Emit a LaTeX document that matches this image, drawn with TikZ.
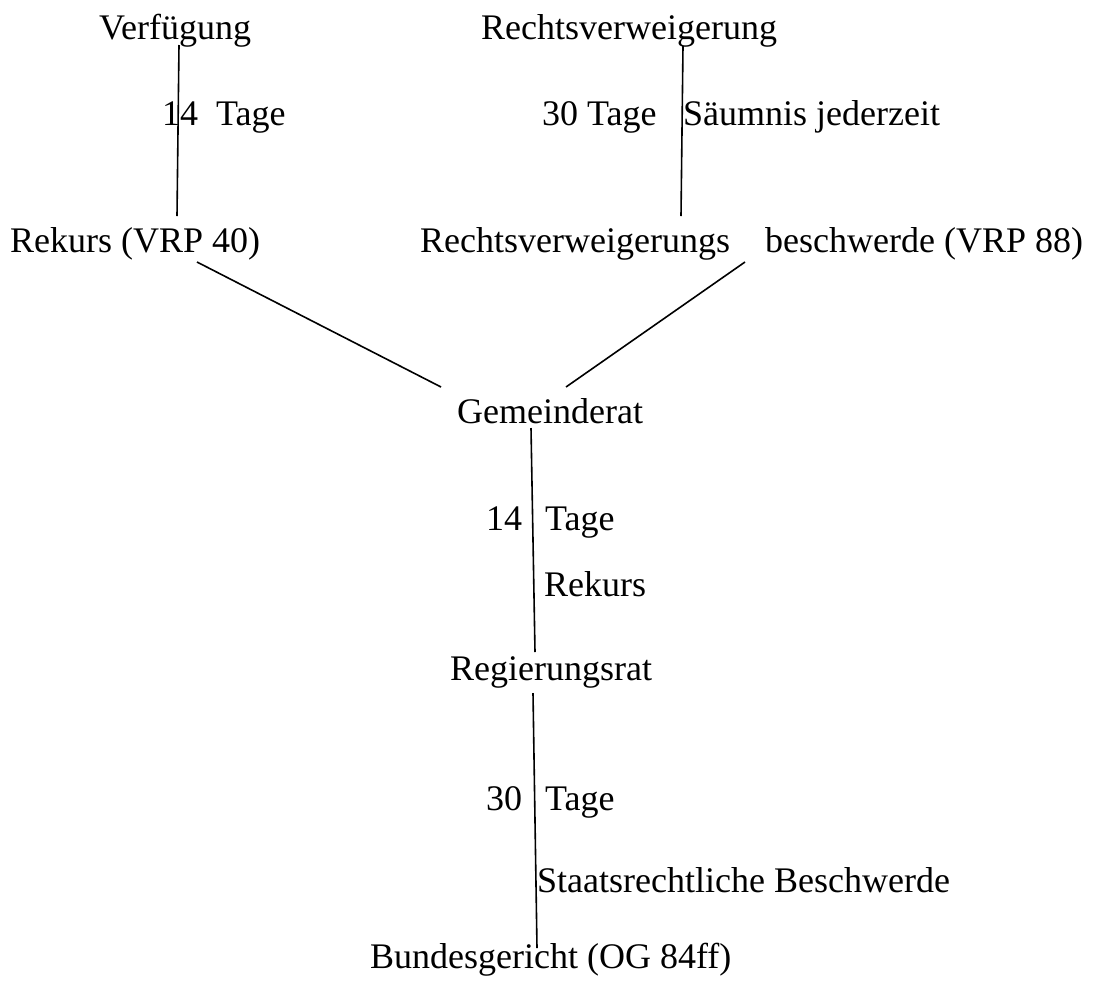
\documentclass[tikz,border=0pt]{standalone}
\usepackage{fontspec}
\setmainfont{Liberation Serif}
\usepackage{tikz}

\begin{document}
\begin{tikzpicture}[x=1pt,y=-1pt,
	lbl/.style={inner sep=0pt,anchor=base west,font=\fontsize{36}{40}\selectfont},
	weg/.style={line width=1.6pt}]
		\useasboundingbox (0,0) rectangle (1095,986);
		% obere Ebene
		\node[lbl] (verf) at (99,39) {Verfügung};
		\node[lbl] (rverw) at (481,39) {Rechtsverweigerung};
		\node[lbl] (frist1) at (162,125) {14\ \ Tage};
		\node[lbl] (frist2) at (542,125) {30 Tage};
		\node[lbl] (saeum) at (683,125) {Säumnis jederzeit};
		\node[lbl] (rek) at (10,252) {Rekurs (VRP 40)};
		\node[lbl] (rvb1) at (420,252) {Rechtsverweigerungs};
		\node[lbl] (rvb2) at (765,252) {beschwerde (VRP 88)};
		% Instanzen
		\node[lbl] (gr) at (457,423) {Gemeinderat};
		\node[lbl] (frist3a) at (486,530) {14};
		\node[lbl] (frist3b) at (545,530) {Tage};
		\node[lbl] (rek2) at (544,596) {Rekurs};
		\node[lbl] (rr) at (450,680) {Regierungsrat};
		\node[lbl] (frist4a) at (486,810) {30};
		\node[lbl] (frist4b) at (545,810) {Tage};
		\node[lbl] (sb) at (537,892) {Staatsrechtliche Beschwerde};
		\node[lbl] (bg) at (370,968) {Bundesgericht (OG 84ff)};
		% Anschlusspunkte
		\coordinate (verfA) at (179,45);
		\coordinate (rekA) at (177,216);
		\coordinate (rverwA) at (683,46);
		\coordinate (rvbA) at (681,216);
		\coordinate (rekB) at (197,262);
		\coordinate (rvbB) at (745,262);
		\coordinate (grA) at (441,387);
		\coordinate (grB) at (566,387);
		\coordinate (grC) at (531,428);
		\coordinate (rrA) at (535,652);
		\coordinate (rrB) at (533,693);
		\coordinate (bgA) at (537,948);
		\draw[weg] (verfA) -- (rekA);
		\draw[weg] (rverwA) -- (rvbA);
		\draw[weg] (rekB) -- (grA);
		\draw[weg] (rvbB) -- (grB);
		\draw[weg] (grC) -- (rrA);
		\draw[weg] (rrB) -- (bgA);
	\end{tikzpicture}
\end{document}
